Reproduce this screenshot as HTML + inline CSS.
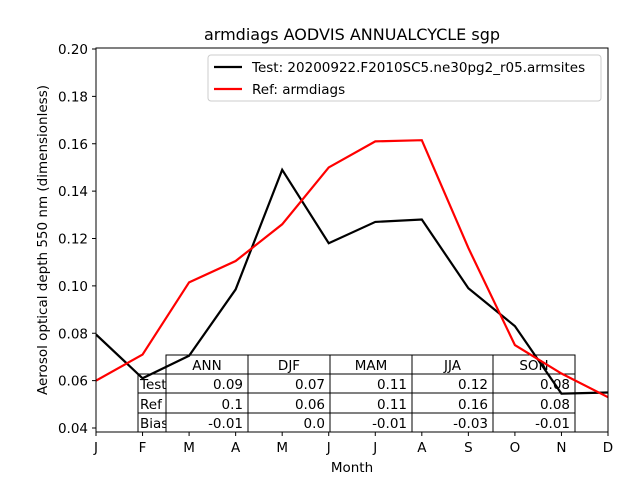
<!DOCTYPE html>
<html><head><meta charset="utf-8"><style>
body{margin:0;background:#fff;}
svg{font-family:"DejaVu Sans","Liberation Sans",sans-serif;}
</style></head><body>
<svg id="chart" width="640" height="480" xmlns="http://www.w3.org/2000/svg">
<rect width="640" height="480" fill="#fff"/>
<text x="352" y="40" text-anchor="middle" font-size="16">armdiags AODVIS ANNUALCYCLE sgp</text>
<g id="table"></g>
<g id="lines"></g>
<rect x="96" y="48" width="512" height="384" fill="none" stroke="#000" stroke-width="1"/>
<g id="axes"></g>
<text x="352" y="472" text-anchor="middle" font-size="13.5">Month</text>
<text transform="translate(47,240) rotate(-90)" text-anchor="middle" font-size="13.5">Aerosol optical depth 550 nm (dimensionless)</text>
<g>
<rect x="208" y="55" width="393" height="46" rx="3" fill="#fff" fill-opacity="0.8" stroke="#ccc"/>
<line x1="214" y1="67" x2="242" y2="67" stroke="#000" stroke-width="2.2"/>
<text x="252" y="72" font-size="13.5">Test: 20200922.F2010SC5.ne30pg2_r05.armsites</text>
<line x1="214" y1="89" x2="242" y2="89" stroke="red" stroke-width="2.2"/>
<text x="252" y="94" font-size="13.5">Ref: armdiags</text>
</g>
</svg>
<script>
const months=["J","F","M","A","M","J","J","A","S","O","N","D"];
const testVals=[0.0795,0.061,0.0705,0.0985,0.149,0.118,0.127,0.128,0.099,0.083,0.0545,0.055];
const refVals=[0.060,0.071,0.1015,0.1105,0.126,0.150,0.161,0.1615,0.116,0.075,0.063,0.053];
const yTicks=[0.04,0.06,0.08,0.10,0.12,0.14,0.16,0.18,0.20];
const tableCols=["ANN","DJF","MAM","JJA","SON"];
const tableRows=["Test","Ref","Bias"];
const testStats=["0.09","0.07","0.11","0.12","0.08"];
const refStats=["0.1","0.06","0.11","0.16","0.08"];
const biasStats=["-0.01","0.0","-0.01","-0.03","-0.01"];
const NS="http://www.w3.org/2000/svg";
const X=i=>96+i*512/11;
const Y=v=>428-(v-0.04)*379/0.16;
function mk(t,a,p){const e=document.createElementNS(NS,t);for(const k in a)e.setAttribute(k,a[k]);p.appendChild(e);return e;}
const axes=document.getElementById('axes');
months.forEach((m,i)=>{
 const t=mk('line',{x1:X(i),x2:X(i),y1:432,y2:436,stroke:'#000'},axes);
 
 
 const l=mk('text',{x:X(i),y:452,'text-anchor':'middle','font-size':13.5},axes);
 
 
 l.textContent=m;
});
yTicks.forEach(v=>{
 const t=mk('line',{x1:92,x2:96,y1:Y(v),y2:Y(v),stroke:'#000'},axes);
 
 
 const l=mk('text',{x:88,y:Y(v)+5,'text-anchor':'end','font-size':13.5},axes);
 
 
 l.textContent=v.toFixed(2);
});
const tb=document.getElementById('table');
const colX=[166,248,330,412,493,575];
const rowY=[355,374,393,413,432];
for(let c=0;c<5;c++){
 mk('rect',{x:colX[c],y:355,width:colX[c+1]-colX[c],height:19,fill:'none',stroke:'#000'},tb);
 const h=mk('text',{x:(colX[c]+colX[c+1])/2,y:370,'text-anchor':'middle','font-size':13.5},tb);
 
 
 h.textContent=tableCols[c];
}
const stats=[testStats,refStats,biasStats];
mk('rect',{x:138,y:374,width:28,height:58},mk('clipPath',{id:'lc'},tb));
tableRows.forEach((r,ri)=>{
 const y0=rowY[ri+1],y1=rowY[ri+2];
 mk('rect',{x:138,y:y0,width:28,height:y1-y0,fill:'none',stroke:'#000'},tb);
 const lt=mk('text',{x:140,y:y1-4,'font-size':13.5,'clip-path':'url(#lc)'},tb);
 
 
 lt.textContent=r;
 for(let c=0;c<5;c++){
  mk('rect',{x:colX[c],y:y0,width:colX[c+1]-colX[c],height:y1-y0,fill:'none',stroke:'#000'},tb);
  const t=mk('text',{x:colX[c+1]-5,y:y1-4,'text-anchor':'end','font-size':13.5},tb);
  
  
  t.textContent=stats[ri][c];
 }
});
const lg=document.getElementById('lines');
mk('rect',{x:96,y:48,width:512,height:384},mk('clipPath',{id:'pc'},lg));
function line(vals,col,name){
 const p=mk('polyline',{points:vals.map((v,i)=>X(i)+','+Y(v)).join(' '),fill:'none',stroke:col,'stroke-width':2.2,'clip-path':'url(#pc)'},lg);
 
 
}
line(testVals,'#000','test-line');
line(refVals,'red','ref-line');
</script>
</body></html>
